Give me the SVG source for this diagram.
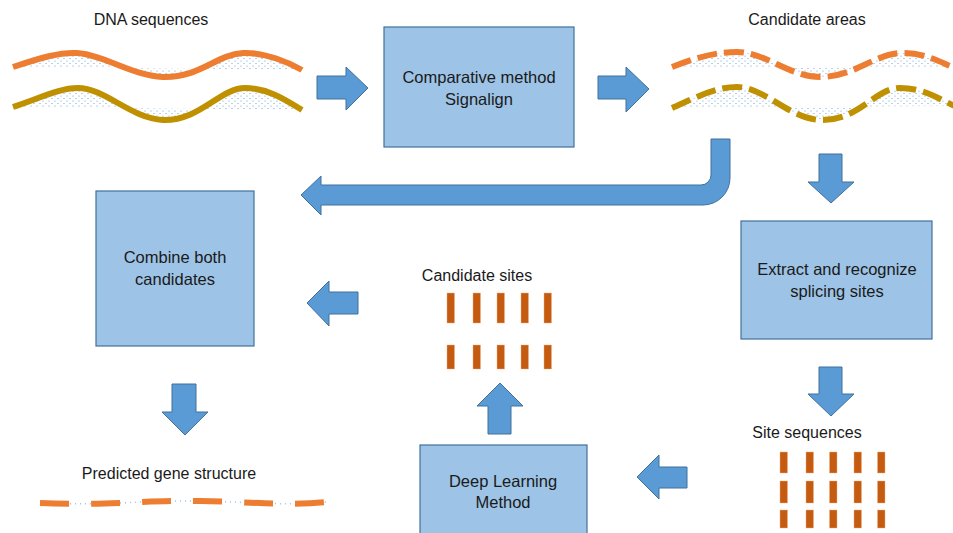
<svg xmlns="http://www.w3.org/2000/svg" width="953" height="533" viewBox="0 0 953 533">
<defs>
<pattern id="dots" width="6" height="5" patternUnits="userSpaceOnUse">
<circle cx="1" cy="1" r="0.6" fill="#5B9BD5"/>
<circle cx="4" cy="3.5" r="0.6" fill="#5B9BD5"/>
</pattern>
<style>
.box{fill:#9DC3E6;stroke:#41719C;stroke-width:1.2}
.arr{fill:#5B9BD5;stroke:#41719C;stroke-width:1}
.t{font-family:"Liberation Sans",Arial,sans-serif;font-size:16px;fill:#1a1a1a;text-anchor:middle}
.bt{font-size:16.5px}
.dot{fill:url(#dots);stroke:none}
.or{fill:none;stroke:#ED7D31;stroke-width:6;stroke-linecap:butt}
.gd{fill:none;stroke:#BF9000;stroke-width:6}
.dash{stroke-dasharray:20 7}
.bar{fill:#C55A11;stroke:#F4B183;stroke-width:0.6;stroke-opacity:0.7}
</style>
</defs>
<rect width="953" height="533" fill="#ffffff"/>

<g id="dna">
<text class="t" x="151" y="25">DNA sequences</text>
<path class="dot" d="M13,67 C40,58 60,52 77,53 C105,55 130,75 163,77 C200,78 215,55 243,53 C265,52 290,63 302,70 Z"/>
<path class="or" d="M13,67 C40,58 60,52 77,53 C105,55 130,75 163,77 C200,78 215,55 243,53 C265,52 290,63 302,70"/>
<path class="dot" d="M13,107 C40,98 60,88 78,88 C105,88 130,118 163,120 C200,121 220,88 245,88 C270,88 290,103 302,110 Z"/>
<path class="gd" d="M13,107 C40,98 60,88 78,88 C105,88 130,118 163,120 C200,121 220,88 245,88 C270,88 290,103 302,110"/>
</g>

<g id="comparative">
<rect class="box" x="384" y="27" width="190" height="120"/>
<text class="t bt" x="479" y="83">Comparative method</text>
<text class="t bt" x="479" y="105">Signalign</text>
</g>

<g id="candidate-areas">
<text class="t" x="807" y="25">Candidate areas</text>
<path class="dot" d="M672,67 C695,58 715,52 737,52 C765,52 790,77 820,77 C855,77 875,53 903,53 C925,53 940,62 955,68 Z"/>
<path class="or dash" d="M672,67 C695,58 715,52 737,52 C765,52 790,77 820,77 C855,77 875,53 903,53 C925,53 940,62 955,68"/>
<path class="dot" d="M672,108 C695,98 715,87 737,87 C765,87 790,120 822,120 C860,120 875,88 900,88 C925,88 940,100 955,106 Z"/>
<path class="gd dash" d="M672,108 C695,98 715,87 737,87 C765,87 790,120 822,120 C860,120 875,88 900,88 C925,88 940,100 955,106"/>
</g>

<g id="combine">
<rect class="box" x="96" y="191" width="158" height="155"/>
<text class="t bt" x="175" y="263">Combine both</text>
<text class="t bt" x="175" y="285">candidates</text>
</g>

<g id="extract">
<rect class="box" x="741" y="221" width="191" height="118"/>
<text class="t bt" x="837" y="275">Extract and recognize</text>
<text class="t bt" x="837" y="297">splicing sites</text>
</g>

<g id="candidate-sites">
<text class="t" x="477" y="281">Candidate sites</text>
<rect class="bar" x="447" y="293" width="7.5" height="30"/>
<rect class="bar" x="473" y="293" width="7.5" height="30"/>
<rect class="bar" x="497" y="293" width="7.5" height="30"/>
<rect class="bar" x="521" y="293" width="7.5" height="30"/>
<rect class="bar" x="544" y="293" width="7.5" height="30"/>
<rect class="bar" x="447" y="345" width="7.5" height="24"/>
<rect class="bar" x="473" y="345" width="7.5" height="24"/>
<rect class="bar" x="497" y="345" width="7.5" height="24"/>
<rect class="bar" x="521" y="345" width="7.5" height="24"/>
<rect class="bar" x="544" y="345" width="7.5" height="24"/>
</g>

<g id="site-sequences">
<text class="t" x="807" y="438">Site sequences</text>
<rect class="bar" x="780" y="452" width="7.5" height="21"/>
<rect class="bar" x="806" y="452" width="7.5" height="21"/>
<rect class="bar" x="829.5" y="452" width="7.5" height="21"/>
<rect class="bar" x="854" y="452" width="7.5" height="21"/>
<rect class="bar" x="877.5" y="452" width="7.5" height="21"/>
<rect class="bar" x="780" y="481" width="7.5" height="22"/>
<rect class="bar" x="806" y="481" width="7.5" height="22"/>
<rect class="bar" x="829.5" y="481" width="7.5" height="22"/>
<rect class="bar" x="854" y="481" width="7.5" height="22"/>
<rect class="bar" x="877.5" y="481" width="7.5" height="22"/>
<rect class="bar" x="780" y="510" width="7.5" height="18"/>
<rect class="bar" x="806" y="510" width="7.5" height="18"/>
<rect class="bar" x="829.5" y="510" width="7.5" height="18"/>
<rect class="bar" x="854" y="510" width="7.5" height="18"/>
<rect class="bar" x="877.5" y="510" width="7.5" height="18"/>
</g>

<g id="deep-learning">
<rect class="box" x="420" y="445" width="167" height="95"/>
<text class="t bt" x="503" y="487">Deep Learning</text>
<text class="t bt" x="503" y="508">Method</text>
</g>

<g id="predicted">
<text class="t" x="169" y="479">Predicted gene structure</text>
<path d="M40,503 C100,506 150,500 200,501 C250,502 290,506 327,502" fill="none" stroke="#9DC3E6" stroke-width="1.5" stroke-dasharray="1 4"/>
<path class="or" d="M40,503 C100,506 150,500 200,501 C250,502 290,506 327,502" stroke-dasharray="29 22"/>
</g>

<g id="connectors">
<path class="arr" d="M317,76 L346,76 L346,67 L368,88 L346,110 L346,99 L317,99 Z"/>
<path class="arr" d="M598,76 L626,76 L626,67 L649,89 L626,112 L626,99 L598,99 Z"/>
<path class="arr" d="M711,139 L730,139 L730,178 A27 27 0 0 1 703,205 L321,205 L321,215 L301,195 L321,176 L321,185 L701,185 A10 10 0 0 0 711,175 Z"/>
<path class="arr" d="M819,154 L842,154 L842,182 L854,182 L831,203 L808,182 L819,182 Z"/>
<path class="arr" d="M819,367 L842,367 L842,394 L854,394 L831,416 L808,394 L819,394 Z"/>
<path class="arr" d="M687,467 L687,488 L659,488 L659,499 L637,477 L659,455 L659,467 Z"/>
<path class="arr" d="M488,434 L511,434 L511,406 L523,406 L500,383 L477,406 L488,406 Z"/>
<path class="arr" d="M358,292 L358,314 L329,314 L329,326 L307,303 L329,281 L329,292 Z"/>
<path class="arr" d="M172,384 L196,384 L196,412 L208,412 L185,435 L162,412 L172,412 Z"/>
</g>
</svg>
